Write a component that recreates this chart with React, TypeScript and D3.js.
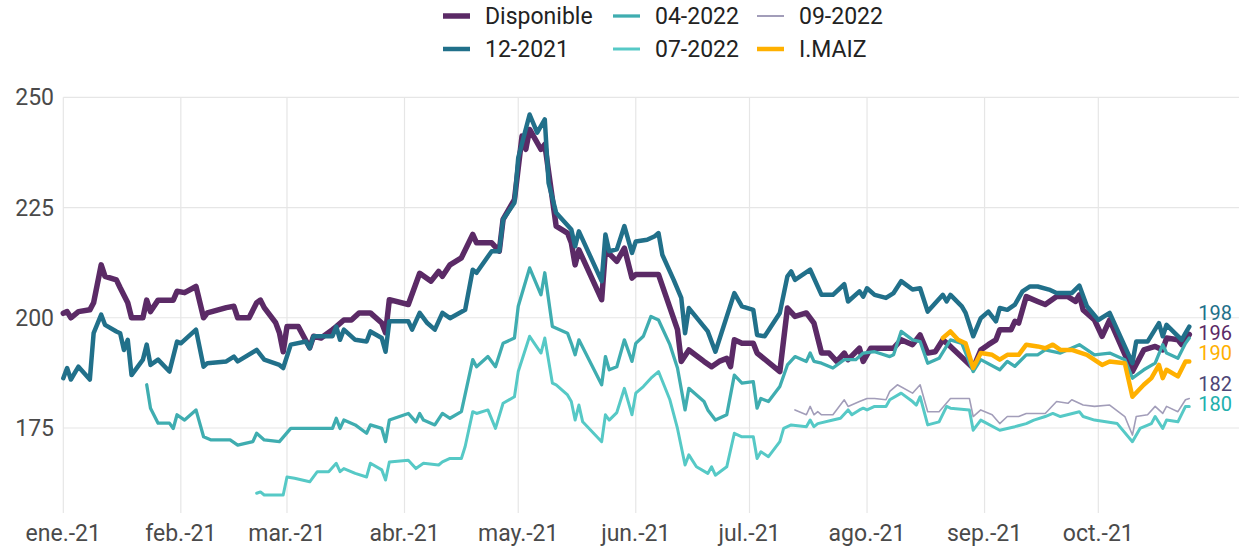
import React from 'react';
import * as d3 from 'd3';

// precios (USD/t), fechas MM-DD de 2021
const disponible: [string, number][] = [
  ["01-01", 201], ["01-02", 201.4], ["01-03", 200], ["01-05", 201.4], ["01-08", 201.8], ["01-09", 203.4],
  ["01-11", 212], ["01-12", 209.4], ["01-15", 208.6], ["01-16", 206.8], ["01-18", 203.4], ["01-19", 200],
  ["01-22", 200], ["01-23", 204], ["01-24", 201.4], ["01-26", 204], ["01-30", 204], ["01-31", 206],
  ["02-02", 205.7], ["02-05", 207.1], ["02-07", 200], ["02-08", 201.1], ["02-13", 202.3], ["02-15", 202.6],
  ["02-16", 200], ["02-19", 200], ["02-21", 203.4], ["02-22", 204], ["02-23", 202.3], ["02-26", 198.9],
  ["02-27", 196.6], ["02-28", 192.3], ["03-01", 198], ["03-04", 198], ["03-07", 193.2], ["03-08", 195.8],
  ["03-10", 195.4], ["03-13", 197.3], ["03-14", 198], ["03-16", 199.5], ["03-18", 199.5], ["03-20", 201.1],
  ["03-23", 201.1], ["03-26", 198.8], ["03-27", 196.6], ["03-28", 204.1], ["04-02", 203], ["04-05", 210.1],
  ["04-08", 208.3], ["04-10", 210.5], ["04-11", 209.4], ["04-13", 212], ["04-16", 213.6], ["04-19", 218.9],
  ["04-20", 217], ["04-24", 217], ["04-26", 215.1], ["04-27", 222.3], ["04-30", 226.8], ["05-02", 241.2],
  ["05-03", 238.2], ["05-04", 242.7], ["05-07", 238.2], ["05-08", 239.3], ["05-11", 220.8], ["05-14", 219.2],
  ["05-15", 217], ["05-16", 212], ["05-17", 215.4], ["05-23", 204.1], ["05-24", 215.4], ["05-27", 212.8],
  ["05-29", 215.8], ["05-31", 209], ["06-01", 209.8], ["06-07", 209.8], ["06-09", 204.8], ["06-12", 197.3],
  ["06-13", 190.1], ["06-15", 192.7], ["06-19", 190.1], ["06-21", 188.9], ["06-23", 190.1], ["06-25", 190.8],
  ["06-26", 188.9], ["06-27", 195], ["06-29", 194.2], ["07-02", 194.2], ["07-03", 192], ["07-09", 187.8],
  ["07-11", 202.2], ["07-13", 200.3], ["07-16", 201.1], ["07-18", 198.8], ["07-20", 192], ["07-22", 192],
  ["07-24", 190.1], ["07-26", 192], ["07-27", 190.5], ["07-30", 193.1], ["07-31", 190.1], ["08-02", 193.1],
  ["08-08", 193.1], ["08-10", 195], ["08-13", 193.9], ["08-15", 196.1], ["08-17", 192], ["08-19", 192.3],
  ["08-21", 195], ["08-23", 193.5], ["08-29", 188.6], ["08-31", 192.7], ["09-02", 193.9], ["09-04", 195],
  ["09-05", 197.3], ["09-08", 197.3], ["09-09", 199.2], ["09-10", 198.8], ["09-12", 204.8], ["09-15", 203.7],
  ["09-17", 203], ["09-20", 204.8], ["09-23", 204.8], ["09-25", 203.7], ["09-26", 205.2], ["09-27", 201.8],
  ["09-30", 199.5], ["10-02", 195.8], ["10-04", 199.5], ["10-10", 187.8], ["10-13", 192.7], ["10-16", 193.5],
  ["10-18", 192.7], ["10-19", 195.4], ["10-22", 195], ["10-23", 193.9], ["10-25", 196.2],
];

const dic2021: [string, number][] = [
  ["01-01", 186.3], ["01-02", 188.6], ["01-03", 186], ["01-05", 188.9], ["01-08", 186], ["01-09", 196.5],
  ["01-11", 200.7], ["01-12", 198.4], ["01-15", 196.9], ["01-16", 196.5], ["01-17", 192.7], ["01-18", 195],
  ["01-19", 187], ["01-22", 190.5], ["01-23", 193.9], ["01-24", 189.3], ["01-26", 190.5], ["01-29", 187.8],
  ["01-31", 194.6], ["02-01", 194.2], ["02-05", 197.3], ["02-07", 188.9], ["02-08", 189.7], ["02-13", 190.1],
  ["02-15", 191.2], ["02-16", 190.1], ["02-21", 192.7], ["02-23", 190.5], ["02-27", 189.3], ["02-28", 188.6],
  ["03-02", 193.9], ["03-06", 194.6], ["03-07", 193.1], ["03-08", 195.8], ["03-13", 195.8], ["03-14", 198],
  ["03-15", 195], ["03-16", 197.3], ["03-19", 195], ["03-22", 194.6], ["03-23", 196.9], ["03-26", 195.4],
  ["03-27", 192.3], ["03-28", 199.2], ["04-02", 199.2], ["04-03", 197.3], ["04-05", 201.1], ["04-07", 198.8],
  ["04-09", 197.3], ["04-11", 201.1], ["04-13", 199.9], ["04-17", 201.8], ["04-19", 210.9], ["04-20", 210.2],
  ["04-24", 215.1], ["04-26", 215.1], ["04-27", 222.3], ["04-30", 226.1], ["05-01", 236.3], ["05-04", 246.1],
  ["05-06", 242], ["05-08", 245], ["05-09", 230.6], ["05-11", 223.8], ["05-15", 220], ["05-16", 216.2],
  ["05-17", 219.6], ["05-23", 208.3], ["05-24", 218.9], ["05-25", 215.1], ["05-27", 215.5], ["05-29", 220.8],
  ["05-31", 214.7], ["06-01", 217.3], ["06-04", 217.7], ["06-06", 218.5], ["06-07", 219.2], ["06-08", 214.3],
  ["06-11", 208.6], ["06-13", 204.5], ["06-14", 196.5], ["06-15", 202.2], ["06-20", 196.9], ["06-22", 192.3],
  ["06-27", 205.6], ["06-29", 202.6], ["07-02", 201.8], ["07-03", 196.1], ["07-05", 195.8], ["07-09", 201.1],
  ["07-11", 209.4], ["07-12", 210.5], ["07-13", 208.6], ["07-17", 210.9], ["07-20", 205.2], ["07-23", 205.2],
  ["07-26", 207.6], ["07-27", 203.7], ["07-30", 206], ["07-31", 204.8], ["08-01", 206.7], ["08-03", 205.2],
  ["08-06", 204.5], ["08-08", 205.6], ["08-10", 208.3], ["08-13", 206.4], ["08-15", 206.7], ["08-17", 201.4],
  ["08-21", 205.2], ["08-22", 203.7], ["08-23", 205.2], ["08-26", 202.6], ["08-27", 201.1], ["08-29", 195.8],
  ["08-31", 199.9], ["09-02", 201.4], ["09-04", 199.2], ["09-05", 202.2], ["09-07", 201.8], ["09-09", 203],
  ["09-11", 206], ["09-13", 207.1], ["09-15", 207.1], ["09-18", 206.4], ["09-20", 205.6], ["09-24", 205.6],
  ["09-26", 207.3], ["09-28", 202.6], ["10-01", 199.5], ["10-04", 201.1], ["10-10", 189.7], ["10-11", 194.6],
  ["10-14", 194.6], ["10-17", 198.8], ["10-18", 195.8], ["10-19", 198.4], ["10-23", 195], ["10-24", 196.5],
  ["10-25", 198],
];

const abr2022: [string, number][] = [
  ["01-23", 184.8], ["01-24", 179.5], ["01-26", 176.1], ["01-29", 176.1], ["01-30", 174.9], ["01-31", 178],
  ["02-02", 176.8], ["02-05", 179.1], ["02-07", 173], ["02-09", 172.3], ["02-14", 172.3], ["02-16", 171.1],
  ["02-20", 171.9], ["02-21", 173.8], ["02-23", 172.3], ["02-27", 171.9], ["03-02", 174.9], ["03-13", 174.9],
  ["03-14", 177.2], ["03-15", 174.9], ["03-16", 176.8], ["03-19", 175.7], ["03-22", 173.8], ["03-23", 175.7],
  ["03-26", 174.9], ["03-27", 171.9], ["03-28", 176.8], ["04-02", 178.3], ["04-04", 176.4], ["04-05", 178.3],
  ["04-06", 176.8], ["04-09", 175.7], ["04-11", 178.3], ["04-13", 177.2], ["04-16", 178.7], ["04-19", 190.5],
  ["04-20", 188.9], ["04-23", 191.2], ["04-25", 188.9], ["04-27", 194.2], ["04-30", 195.4], ["05-01", 202.6],
  ["05-04", 211.3], ["05-07", 205.2], ["05-08", 210.2], ["05-10", 198], ["05-14", 196.5], ["05-15", 194.2],
  ["05-16", 191.6], ["05-17", 195], ["05-23", 184.8], ["05-24", 191.2], ["05-25", 188.2], ["05-27", 188.9],
  ["05-29", 195], ["05-31", 190.1], ["06-01", 194.2], ["06-03", 195.8], ["06-05", 200.3], ["06-07", 199.5],
  ["06-10", 193.9], ["06-12", 188.6], ["06-14", 179.1], ["06-15", 184], ["06-19", 181], ["06-20", 179.1],
  ["06-22", 176.8], ["06-25", 178], ["06-27", 187], ["06-29", 185.2], ["07-02", 185.5], ["07-03", 179.5],
  ["07-04", 181.7], ["07-06", 181], ["07-09", 184.4], ["07-11", 189.3], ["07-13", 191.2], ["07-16", 190.1],
  ["07-17", 192], ["07-18", 190.1], ["07-20", 189.7], ["07-23", 188.6], ["07-26", 190.5], ["07-29", 190.5],
  ["07-31", 192], ["08-03", 192.3], ["08-07", 191.2], ["08-08", 191.6], ["08-10", 196.9], ["08-13", 195],
  ["08-15", 194.6], ["08-17", 189.7], ["08-20", 190.8], ["08-23", 195], ["08-26", 194.2], ["08-29", 187.8],
  ["08-31", 190.5], ["09-05", 188.2], ["09-07", 190.1], ["09-09", 189], ["09-12", 191.6], ["09-15", 191.6],
  ["09-17", 192.7], ["09-21", 192], ["09-26", 193.9], ["09-30", 191.6], ["10-04", 192], ["10-08", 190.5],
  ["10-10", 186.3], ["10-13", 188.2], ["10-16", 189.7], ["10-18", 193.9], ["10-19", 192], ["10-22", 190.8],
  ["10-24", 194.2], ["10-25", 195.4],
];

const jul2022: [string, number][] = [
  ["02-21", 160.2], ["02-22", 160.5], ["02-23", 159.8], ["02-28", 159.8], ["03-01", 163.9], ["03-03", 163.6],
  ["03-07", 162.8], ["03-09", 165.1], ["03-12", 165.1], ["03-14", 167], ["03-15", 165.1], ["03-16", 165.8],
  ["03-19", 164.7], ["03-22", 163.9], ["03-23", 167], ["03-26", 165.5], ["03-27", 163.2], ["03-28", 167.3],
  ["04-02", 167.7], ["04-04", 165.8], ["04-06", 167], ["04-10", 166.6], ["04-11", 167.3], ["04-13", 168.1],
  ["04-16", 168.1], ["04-17", 170.8], ["04-19", 178.7], ["04-20", 178.3], ["04-23", 179.1], ["04-25", 174.9],
  ["04-27", 180.6], ["04-30", 182.1], ["05-01", 187.8], ["05-04", 195.8], ["05-07", 192], ["05-08", 195.4],
  ["05-10", 185.2], ["05-11", 184.8], ["05-14", 182.5], ["05-15", 181], ["05-16", 176.8], ["05-17", 180.2],
  ["05-18", 176.4], ["05-23", 171.9], ["05-24", 178], ["05-25", 176.8], ["05-27", 178.5], ["05-29", 184],
  ["05-31", 178], ["06-01", 182.9], ["06-03", 184.4], ["06-05", 186.3], ["06-07", 187.8], ["06-10", 181.4],
  ["06-12", 174.9], ["06-14", 166.6], ["06-15", 168.9], ["06-17", 166.2], ["06-20", 164.7], ["06-21", 166.2],
  ["06-22", 164.3], ["06-25", 166.2], ["06-27", 173.8], ["06-29", 173], ["07-02", 173], ["07-03", 168.1],
  ["07-04", 169.6], ["07-06", 168.5], ["07-09", 171.9], ["07-10", 174.9], ["07-12", 175.7], ["07-16", 175.3],
  ["07-17", 176.8], ["07-18", 175.3], ["07-19", 176], ["07-23", 176.8], ["07-25", 177.2], ["07-27", 179.1],
  ["07-28", 178], ["07-30", 179.1], ["07-31", 179.5], ["08-01", 179.1], ["08-03", 179.9], ["08-06", 179.9],
  ["08-07", 181.4], ["08-10", 182.9], ["08-13", 181], ["08-14", 180.2], ["08-15", 182.1], ["08-17", 175.7],
  ["08-20", 176.4], ["08-22", 179.9], ["08-23", 179.5], ["08-28", 179.1], ["08-29", 174.5], ["08-31", 176.8],
  ["09-05", 174.5], ["09-09", 175.3], ["09-12", 176], ["09-14", 176.8], ["09-17", 177.6], ["09-19", 178.3],
  ["09-21", 177.6], ["09-26", 178.7], ["09-27", 177.6], ["09-30", 176.8], ["10-06", 176], ["10-10", 171.9],
  ["10-12", 174.9], ["10-15", 176], ["10-16", 177.6], ["10-18", 174.9], ["10-19", 176.8], ["10-22", 176.4],
  ["10-24", 179.9], ["10-25", 179.9],
];

const sep2022: [string, number][] = [
  ["07-13", 179.1], ["07-16", 178], ["07-17", 179.9], ["07-18", 178], ["07-19", 178.7], ["07-20", 178],
  ["07-23", 178], ["07-26", 181.4], ["07-27", 179.9], ["07-30", 181], ["08-01", 181.7], ["08-03", 181.7],
  ["08-06", 181.4], ["08-07", 183.3], ["08-09", 184.8], ["08-13", 182.9], ["08-15", 184.8], ["08-17", 178.7],
  ["08-20", 178.7], ["08-23", 181.7], ["08-28", 181.7], ["08-29", 177.6], ["08-31", 179.1], ["09-03", 178],
  ["09-05", 176], ["09-07", 177.6], ["09-10", 177.6], ["09-12", 178.3], ["09-17", 178.3], ["09-20", 181],
  ["09-23", 180.6], ["09-24", 181.4], ["09-27", 180.2], ["09-30", 179.9], ["10-04", 180.2], ["10-08", 177.6],
  ["10-10", 173.4], ["10-11", 177.6], ["10-14", 178], ["10-16", 179.9], ["10-18", 178.3], ["10-19", 179.9],
  ["10-22", 178.7], ["10-24", 181.4], ["10-25", 181.7],
];

const imaiz: [string, number][] = [
  ["08-21", 195.4], ["08-23", 196.9], ["08-25", 195], ["08-27", 194.2], ["08-29", 188.6], ["08-31", 192],
  ["09-03", 191.6], ["09-05", 190.5], ["09-07", 191.6], ["09-10", 191.6], ["09-12", 193.9], ["09-15", 193.5],
  ["09-17", 193.1], ["09-19", 193.9], ["09-21", 192.7], ["09-24", 192.7], ["09-28", 191.6], ["10-02", 189.3],
  ["10-04", 190.1], ["10-08", 189.7], ["10-10", 182.1], ["10-13", 184.8], ["10-15", 186.3], ["10-17", 189.3],
  ["10-18", 186.3], ["10-19", 188.2], ["10-22", 186.7], ["10-24", 190.1], ["10-25", 190.1],
];

const monthTicks = ["01", "02", "03", "04", "05", "06", "07", "08", "09", "10"];
const monthNames = ["ene.", "feb.", "mar.", "abr.", "may.", "jun.", "jul.", "ago.", "sep.", "oct."];
const yTicks = [175, 200, 225, 250];

const series = [
  { name: "Disponible", data: disponible, color: "#5b2a66", width: 5.5, label: true, labelColor: "#5b2a66" },
  { name: "12-2021", data: dic2021, color: "#21708a", width: 4.5, label: true, labelColor: "#21708a" },
  { name: "04-2022", data: abr2022, color: "#3fadb0", width: 3.3, label: false, labelColor: "#3fadb0" },
  { name: "07-2022", data: jul2022, color: "#56c9c6", width: 3, label: true, labelColor: "#22b0ad" },
  { name: "09-2022", data: sep2022, color: "#a29db9", width: 1.6, label: true, labelColor: "#4d4676" },
  { name: "I.MAIZ", data: imaiz, color: "#ffb000", width: 4.5, label: true, labelColor: "#ffb000" },
];

const legendOrder = ["Disponible", "04-2022", "09-2022", "12-2021", "07-2022", "I.MAIZ"];

const parse = d3.timeParse("%Y-%m-%d");
const toDate = (s: string) => parse("2021-" + s) as Date;

export default function App() {
  const W = 1239, H = 549;
  const x = d3.scaleTime().domain([toDate("01-01"), toDate("10-01")]).range([63.3, 1098.3]);
  const y = d3.scaleLinear().domain([175, 250]).range([428, 97.3]);
  const plotBottom = 513;
  const font = "Roboto, 'Noto Sans', sans-serif";

  const line = d3.line<[string, number]>()
    .x(d => x(toDate(d[0])))
    .y(d => y(d[1]));

  // etiquetas finales con separación mínima
  const gapMin = 20;
  const labels = series.filter(s => s.label).map(s => {
    const last = s.data[s.data.length - 1];
    return { text: String(Math.round(last[1])), color: s.labelColor, y: y(last[1]) - 1, x: x(toDate(last[0])) + 9 };
  }).sort((a, b) => a.y - b.y);
  for (let it = 0; it < 50; it++) {
    for (let i = 1; i < labels.length; i++) {
      const gap = labels[i].y - labels[i - 1].y;
      if (gap < gapMin) {
        const push = (gapMin - gap) / 2;
        labels[i].y += push;
        labels[i - 1].y -= push;
      }
    }
  }

  return (
    <svg width={W} height={H} style={{ position: 'absolute', left: 0, top: 0, background: '#fff' }} fontFamily={font}>
      {yTicks.map(t => (
        <g key={t}>
          <line x1={63.3} x2={W} y1={y(t)} y2={y(t)} stroke="#e6e6e6" strokeWidth={1.2} />
          <text x={54} y={y(t)} dy="0.35em" textAnchor="end" fontSize={23} fill="#4a4a4a">{t}</text>
        </g>
      ))}
      {monthTicks.map((m, i) => (
        <g key={m}>
          <line x1={x(toDate(m + "-01"))} x2={x(toDate(m + "-01"))} y1={y(250)} y2={plotBottom} stroke="#e6e6e6" strokeWidth={1.2} />
          <text x={x(toDate(m + "-01"))} y={541} textAnchor="middle" fontSize={23} fill="#4a4a4a">{monthNames[i]}-21</text>
        </g>
      ))}
      {series.map(s => (
        <path key={s.name} d={line(s.data) || ''} fill="none" stroke={s.color} strokeWidth={s.width}
          strokeLinejoin="round" strokeLinecap="round" />
      ))}
      {labels.map(l => (
        <text key={l.text} x={l.x} y={l.y} fontSize={20} fill={l.color}>{l.text}</text>
      ))}
      {legendOrder.map((name, i) => {
        const s = series.find(d => d.name === name)!;
        const col = i % 3, row = Math.floor(i / 3);
        const lx = [443, 613, 757][col];
        const ly = [16, 49][row];
        return (
          <g key={name}>
            <line x1={lx} x2={lx + 27} y1={ly} y2={ly} stroke={s.color} strokeWidth={Math.max(s.width, 2)} />
            <text x={lx + 42} y={ly} dy="0.35em" fontSize={23} fill="#222">{name}</text>
          </g>
        );
      })}
    </svg>
  );
}
